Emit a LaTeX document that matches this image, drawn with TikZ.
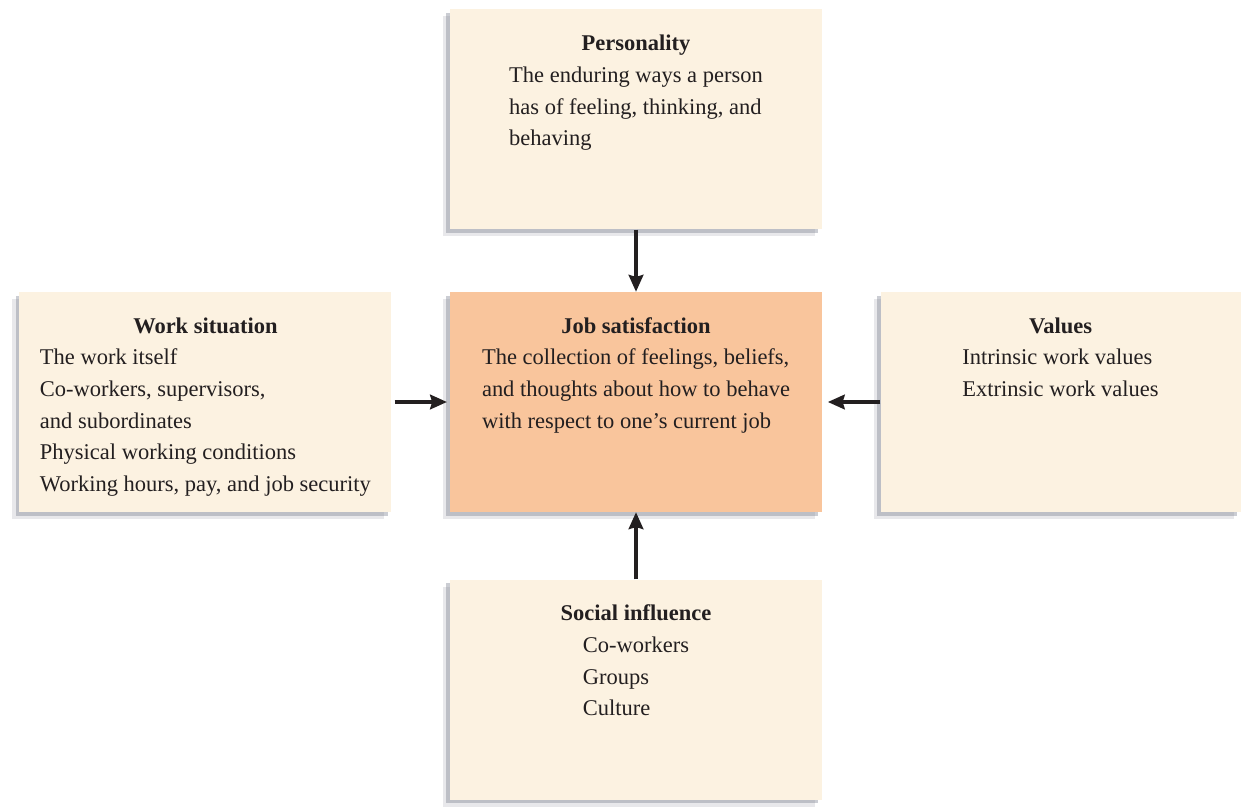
\documentclass[tikz,border=0pt]{standalone}
\usepackage{fontspec}
\setmainfont{Liberation Serif}
\usepackage{tikz}
\usetikzlibrary{arrows.meta,positioning,shadows}
\definecolor{boxcream}{HTML}{FCF2E1}
\definecolor{boxpeach}{HTML}{F9C59C}
\definecolor{inkdark}{HTML}{231F20}
\definecolor{shadegray}{HTML}{7E8290}
\newcommand{\bodylines}[1]{\begin{tabular}[t]{@{}l@{}}#1\end{tabular}}

\begin{document}
\begin{tikzpicture}[
  panel/.style={fill=boxcream, inner sep=0pt, minimum width=9.3cm, minimum height=5.5cm,
                drop shadow={shadow xshift=-5pt, shadow yshift=-5pt, fill=shadegray, opacity=.18},
                drop shadow={shadow xshift=-2.5pt, shadow yshift=-2.5pt, fill=shadegray, opacity=.4}},
  headtext/.style={anchor=base, inner sep=0pt, text=inkdark,
                   font=\fontsize{16}{22.5}\selectfont\bfseries},
  bodytext/.style={anchor=base, inner sep=0pt, text=inkdark,
                   font=\fontsize{16}{22.5}\selectfont},
  arr/.style={-{Stealth[length=12pt,width=10.5pt,inset=1.5pt]}, line width=2.2pt, color=inkdark}]
\useasboundingbox (0,0) rectangle (31.075,-20.175);
% the five panels
\node[panel, fill=boxpeach] (job) at (15.9,-10.05) {};
\node[panel, above=1.55cm of job] (pers) {};
\node[panel, left=1.45cm of job] (work) {};
\node[panel, right=1.45cm of job, minimum width=9cm] (vals) {};
\node[panel, below=1.675cm of job] (social) {};
% headings and texts
\node[headtext] (jobhead) at ([yshift=-1.04cm]job.north) {Job satisfaction};
\node[bodytext] (jobbody) at ([yshift=-22.5pt]jobhead.base)
  {\bodylines{The collection of feelings, beliefs,\\ and thoughts about how to behave\\ with respect to one's current job}};
\node[headtext] (pershead) at ([yshift=-1.04cm]pers.north) {Personality};
\node[bodytext] (persbody) at ([yshift=-22.5pt]pershead.base)
  {\bodylines{The enduring ways a person\\ has of feeling, thinking, and\\ behaving}};
\node[headtext] (workhead) at ([yshift=-1.04cm]work.north) {Work situation};
\node[bodytext] (workbody) at ([yshift=-22.5pt]workhead.base)
  {\bodylines{The work itself\\ Co-workers, supervisors,\\ and subordinates\\ Physical working conditions\\ Working hours, pay, and job security}};
\node[headtext] (valshead) at ([yshift=-1.04cm]vals.north) {Values};
\node[bodytext] (valsbody) at ([yshift=-22.5pt]valshead.base)
  {\bodylines{Intrinsic work values\\ Extrinsic work values}};
\node[headtext] (socialhead) at ([yshift=-1.04cm]social.north) {Social influence};
\node[bodytext] (socialbody) at ([yshift=-22.5pt]socialhead.base)
  {\bodylines{Co-workers\\ Groups\\ Culture}};
% influences
\draw[arr] (pers) -- (job);
\draw[arr, shorten <=2pt, shorten >=2pt] (work) -- (job);
\draw[arr, shorten >=4pt] (vals) -- (job);
\draw[arr] (social) -- (job);
\end{tikzpicture}
\end{document}
